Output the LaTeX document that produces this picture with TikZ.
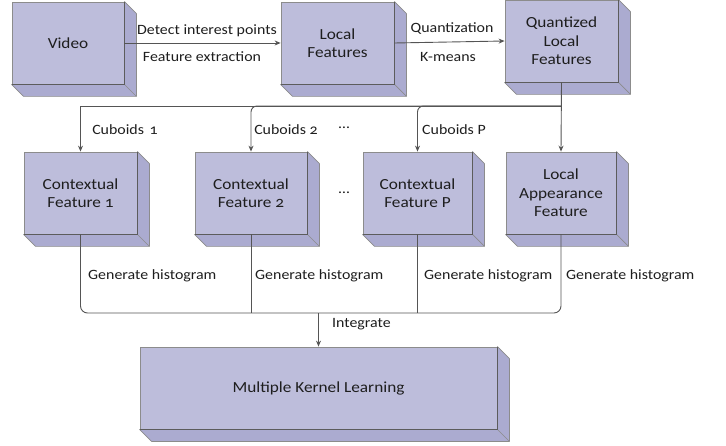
\documentclass[tikz,border=0pt]{standalone}
\usepackage{fontspec}
\setmainfont{Carlito}[Numbers=OldStyle, FakeStretch=1.12]
\usetikzlibrary{arrows.meta}

\definecolor{facefront}{HTML}{BDBDDB}
\definecolor{faceside}{HTML}{ABABD0}
\definecolor{edgeline}{HTML}{8C8C8C}
\definecolor{edgedark}{HTML}{5C5C5C}
\definecolor{wire}{HTML}{555555}
\definecolor{ink}{HTML}{1E1E1E}

\tikzset{
  cubebox/.style={fill=facefront, draw=edgeline, line width=0.8pt,
    minimum width=#1, minimum height=82pt, inner sep=2pt, align=center,
    font=\fontsize{15.4}{18.5}\selectfont, text=ink},
  lbl/.style={font=\fontsize{14.2}{16}\selectfont, text=ink, inner sep=0pt},
  wireline/.style={draw=wire, line width=0.9pt},
  conn/.style={wireline, -{Stealth[length=6pt,width=5pt]}},
}

% extruded right and bottom faces behind a front face
\newcommand\sidefaces[2]{%
  \filldraw[fill=faceside, draw=edgeline, line width=0.7pt, line join=round]
    (#1.north east) -- ([shift={(#2,#2)}]#1.north east)
    -- ([shift={(#2,#2)}]#1.south east) -- ([shift={(#2,#2)}]#1.south west)
    -- (#1.south west) -- (#1.south east) -- cycle;
  \draw[edgeline, line width=0.7pt] (#1.south east) -- ([shift={(#2,#2)}]#1.south east);
  \draw[edgedark, line width=0.9pt] (#1.south west) -- (#1.south east) -- (#1.north east);
}

\begin{document}
\begin{tikzpicture}[x=1pt, y=-1pt]
\useasboundingbox (0,0) rectangle (726,446);

% boxes
\node[cubebox=112] (video) at (68,43) {Video};
\node[cubebox=113] (local) at (337.5,43) {Local\\Features};
\node[cubebox=113] (qlf) at (561.5,41) {Quantized\\Local\\Features};
\node[cubebox=113] (cf1) at (80.5,193) {Contextual\\Feature 1};
\node[cubebox=112] (cf2) at (251,193) {Contextual\\Feature 2};
\node[cubebox=109] (cfp) at (417.5,193) {Contextual\\Feature P};
\node[cubebox=110] (laf) at (561,193) {Local\\Appearance\\Feature};
\node[cubebox=357] (mkl) at (318.5,388) {Multiple Kernel Learning};

\foreach \n in {video,local,qlf,cf1,cf2,cfp,laf,mkl}{\sidefaces{\n}{12}}

% top row flow
\draw[conn] (video.east) -- (local.west);
\draw[conn] (local.east) -- (qlf.west);
\node[lbl] (t1) at (207,31) {Detect interest points};
\node[lbl] (t2) at (202,57) {Feature extraction};
\node[lbl] (t3) at (452,29) {Quantization};
\node[lbl] (t4) at (448,57) {K-means};

% distribution to the feature boxes
\coordinate (hub) at (qlf.south |- 0,106);
\draw[conn] (qlf.south) -- (laf.north);
\draw[conn] (hub) -| (cf1.north);
\draw[conn, rounded corners=6pt] (hub) -| (cf2.north);
\draw[conn, rounded corners=6pt] (hub) -| (cfp.north);
\node[lbl] (c1) at (125,130) {Cuboids\kern2pt\ 1};
\node[lbl] (c2) at (286,130) {Cuboids 2};
\node[lbl] (cp) at (454,130) {Cuboids P};
\node[lbl] (d1) at (344,128) {\dots};
\node[lbl] (d2) at (344,193) {\dots};

% collection into the learner
\coordinate (bus) at (mkl.north |- 0,313);
\draw[wireline, rounded corners=7pt] (cf1.south) |- (bus);
\draw[wireline, rounded corners=7pt] (laf.south) |- (bus);
\draw[wireline] (cf2.south) -- (cf2.south |- bus);
\draw[wireline] (cfp.south) -- (cfp.south |- bus);
\draw[conn] (bus) -- (mkl.north);
\node[lbl, anchor=west] (g1) at (88,276) {Generate histogram};
\node[lbl, anchor=west] (g2) at (255,276) {Generate histogram};
\node[lbl, anchor=west] (g3) at (424,276) {Generate histogram};
\node[lbl, anchor=west] (g4) at (566,276) {Generate histogram};
\node[lbl, anchor=west] (ig) at (332,324) {Integrate};
\end{tikzpicture}
\end{document}
